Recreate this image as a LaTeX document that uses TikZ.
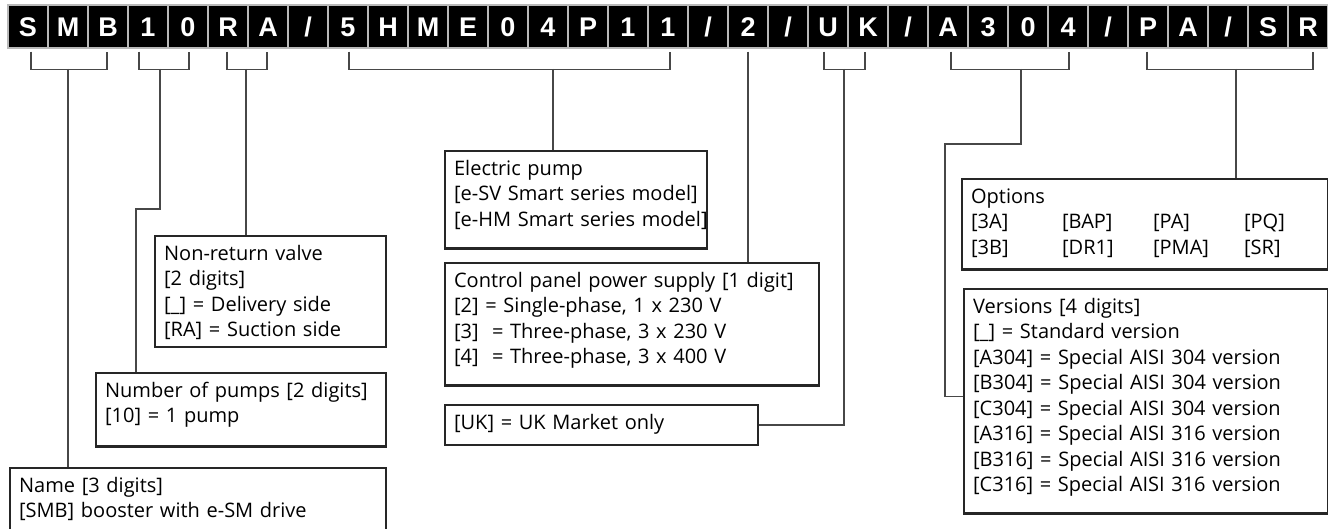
\documentclass[tikz,border=0pt]{standalone}
\usepackage{fontspec}
\newfontfamily\boxfont{Open Sans}
\newfontfamily\cellfont{Liberation Sans}
\definecolor{boxline}{HTML}{262626}
\definecolor{linkline}{HTML}{474747}
\newcommand{\boxgap}[1]{\rule[-#1]{0pt}{#1}}
\newcommand{\optcol}[1]{\makebox[91pt][l]{#1}}
\tikzset{
  cell/.style={fill=black,draw=gray!55,line width=1.2pt,minimum width=40pt,minimum height=43pt,
    inner sep=0pt,text=white,font=\cellfont\bfseries\fontsize{27}{27}\selectfont,
    text height=19.3pt,text depth=0pt},
  infobox/.style={draw=boxline,line width=2.2pt,anchor=north west,align=left,
    inner xsep=9pt,inner ysep=6.5pt,text=black,font=\boxfont\fontsize{20}{25.5}\selectfont},
  link/.style={draw=linkline,line width=1.3pt}
}

\begin{document}
\begin{tikzpicture}[x=1pt,y=-1pt]
\useasboundingbox (0,0) rectangle (1328,529);
\clip (0,0) rectangle (1328,529);

\foreach \ch [count=\i] in {S,M,B,1,0,R,A,\slash,5,H,M,E,0,4,P,1,1,\slash,2,\slash,U,K,\slash,A,3,0,4,\slash,P,A,\slash,S,R}
  \node[cell] (c\i) at (40*\i-12,26.5) {\ch};

\node[infobox,text width=358pt] (name) at (9,467)
  {\strut Name [3 digits]\\{}[SMB] booster with e-SM drive\boxgap{30pt}};
\node[infobox,text width=272pt] (pumps) at (95,372)
  {\strut Number of pumps [2 digits]\\{}[10] = 1 pump\boxgap{17pt}};
\node[infobox,text width=213pt] (valve) at (154,235)
  {\strut Non-return valve\\{}[2 digits]\\{}[\_] = Delivery side\\{}[RA] = Suction side};
\node[infobox,text width=244pt] (pump) at (444,150)
  {\strut Electric pump\\\mbox{[e-SV Smart series model]}\\\mbox{[e-HM Smart series model]}\boxgap{15.5pt}};
\node[infobox,text width=356pt] (supply) at (444,262)
  {\strut Control panel power supply [1 digit]\\{}[2] = Single-phase, 1 x 230 V\\{}[3]~ = Three-phase, 3 x 230 V\\{}[4]~ = Three-phase, 3 x 400 V\boxgap{15pt}};
\node[infobox,text width=295pt] (market) at (444,404)
  {\strut [UK] = UK Market only\boxgap{9pt}};
\node[infobox,text width=348pt] (options) at (961,178)
  {\strut Options\\\optcol{[3A]}\optcol{[BAP]}\optcol{[PA]}[PQ]\\\optcol{[3B]}\optcol{[DR1]}\optcol{[PMA]}[SR]\boxgap{8.5pt}};
\node[infobox,text width=346pt] (versions) at (963,288)
  {\strut Versions [4 digits]\\{}[\_] = Standard version\\{}[A304] = Special AISI 304 version\\{}[B304] = Special AISI 304 version\\{}[C304] = Special AISI 304 version\\{}[A316] = Special AISI 316 version\\{}[B316] = Special AISI 316 version\\{}[C316] = Special AISI 316 version\boxgap{15pt}};

\draw[link] ([shift={(3pt,-3pt)}]c1.south) |- ([shift={(-1pt,-21pt)}]c3.south) -- ([shift={(-1pt,-3pt)}]c3.south);
\draw[link] ([shift={(-9pt,-3pt)}]c4.south) |- ([shift={(1pt,-21pt)}]c5.south) -- ([shift={(1pt,-3pt)}]c5.south);
\draw[link] ([shift={(-1pt,-3pt)}]c6.south) |- ([shift={(-1pt,-21pt)}]c7.south) -- ([shift={(-1pt,-3pt)}]c7.south);
\draw[link] ([shift={(1pt,-3pt)}]c9.south) |- ([shift={(2pt,-21pt)}]c17.south) -- ([shift={(2pt,-3pt)}]c17.south);
\draw[link] ([shift={(-4pt,-3pt)}]c21.south) |- ([shift={(-3pt,-21pt)}]c22.south) -- ([shift={(-3pt,-3pt)}]c22.south);
\draw[link] ([shift={(3pt,-3pt)}]c24.south) |- ([shift={(1pt,-21pt)}]c27.south) -- ([shift={(1pt,-3pt)}]c27.south);
\draw[link] ([shift={(-1pt,-3pt)}]c29.south) |- ([shift={(5pt,-21pt)}]c33.south) -- ([shift={(5pt,-3pt)}]c33.south);

\coordinate (bsmb) at (68,69);
\coordinate (b10) at (160,69);
\coordinate (k10) at (136,209);
\coordinate (bra) at (246,69);
\coordinate (bpump) at (553,69);
\coordinate (buk) at (844,69);
\coordinate (b304) at (1021,69);
\coordinate (k304) at (945,144);
\coordinate (bopt) at (1236,69);

\draw[link] (bsmb) -- (bsmb |- name.north);
\draw[link] (b10) |- (k10) -- (k10 |- pumps.north);
\draw[link] (bra) -- (bra |- valve.north);
\draw[link] (bpump) -- (bpump |- pump.north);
\draw[link] ([yshift=-3pt]c19.south) -- (c19.south |- supply.north);
\draw[link] (buk) |- (market.east);
\draw[link] (b304) |- (k304) |- ([yshift=5pt]versions.west);
\draw[link] (bopt) -- (bopt |- options.north);

\end{tikzpicture}
\end{document}
